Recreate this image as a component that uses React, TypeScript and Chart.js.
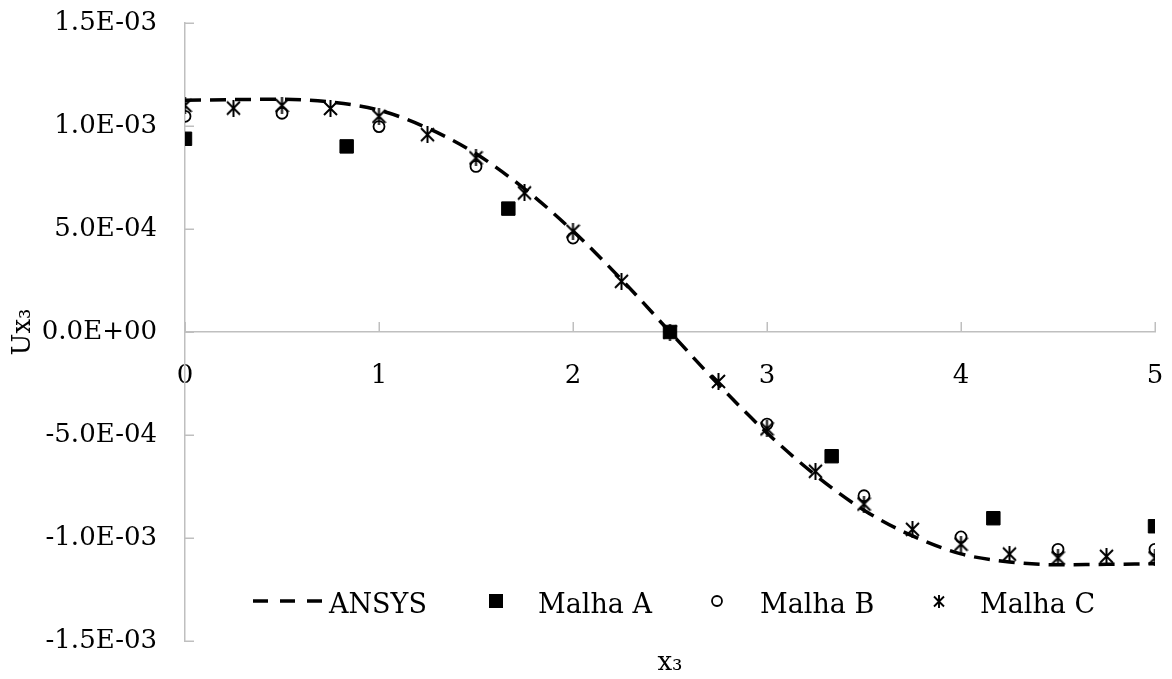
import React, { useEffect, useRef } from 'react';
import { Chart, registerables } from 'chart.js';

Chart.register(...registerables);

const FONT_FAMILY = '"DejaVu Serif", serif';

// ---- Data (displacements in metres) ----
const seriesNames = ['ANSYS', 'Malha A', 'Malha B', 'Malha C'];

const ansysX = [0, 0.25, 0.5, 0.75, 1, 1.25, 1.5, 1.75, 2, 2.25, 2.5, 2.75, 3, 3.25, 3.5, 3.75, 4, 4.25, 4.5, 4.75, 5];
const ansysY = [
  1.125e-3, 1.128e-3, 1.13e-3, 1.116e-3, 1.077e-3, 0.99e-3, 0.865e-3, 0.695e-3, 0.49e-3, 0.255e-3, 0,
  -0.255e-3, -0.49e-3, -0.695e-3, -0.865e-3, -0.99e-3, -1.077e-3, -1.116e-3, -1.13e-3, -1.128e-3, -1.125e-3,
];

const malhaAX = [0, 0.8333, 1.6667, 2.5, 3.3333, 4.1667, 5];
const malhaAY = [0.938e-3, 0.901e-3, 0.599e-3, 0, -0.603e-3, -0.904e-3, -0.943e-3];

const malhaBX = [0, 0.5, 1, 1.5, 2, 2.5, 3, 3.5, 4, 4.5, 5];
const malhaBY = [1.047e-3, 1.062e-3, 0.997e-3, 0.804e-3, 0.456e-3, 0, -0.447e-3, -0.795e-3, -0.995e-3, -1.055e-3, -1.055e-3];

const malhaCX = [0, 0.25, 0.5, 0.75, 1, 1.25, 1.5, 1.75, 2, 2.25, 2.5, 2.75, 3, 3.25, 3.5, 3.75, 4, 4.25, 4.5, 4.75, 5];
const malhaCY = [
  1.1e-3, 1.087e-3, 1.1e-3, 1.085e-3, 1.047e-3, 0.958e-3, 0.845e-3, 0.675e-3, 0.489e-3, 0.246e-3, 0,
  -0.24e-3, -0.47e-3, -0.676e-3, -0.835e-3, -0.958e-3, -1.03e-3, -1.078e-3, -1.097e-3, -1.089e-3, -1.097e-3,
];

const xTickLabels = ['0', '1', '2', '3', '4', '5'];
const yTickLabels = ['-1.5E-03', '-1.0E-03', '-5.0E-04', '0.0E+00', '5.0E-04', '1.0E-03', '1.5E-03'];
const xTitle = 'x\u2083';
const yTitle = 'Ux\u2083';

const AXIS_COLOR = '#bfbfbf';
const ANSYS_DASH = [16, 9];

function toPoints(xs: number[], ys: number[]) {
  return xs.map((x, i) => ({ x, y: ys[i] }));
}

function makeStarCanvas(w: number, h: number, lw: number) {
  const c = document.createElement('canvas');
  c.width = w;
  c.height = h;
  const g = c.getContext('2d')!;
  g.strokeStyle = '#000';
  g.lineWidth = lw;
  g.lineCap = 'butt';
  const m = 1;
  const top = (h - (w - 2 * m)) / 2;
  g.beginPath();
  g.moveTo(m, top);
  g.lineTo(w - m, h - top);
  g.moveTo(w - m, top);
  g.lineTo(m, h - top);
  g.moveTo(w / 2, 0);
  g.lineTo(w / 2, h);
  g.stroke();
  return c;
}

const tickMarksPlugin = {
  id: 'innerTickMarks',
  beforeDatasetsDraw(chart: any) {
    const { ctx, scales } = chart;
    const xs = scales.x;
    const ys = scales.y;
    const x0 = xs.getPixelForValue(0);
    const y0 = ys.getPixelForValue(0);
    ctx.save();
    ctx.strokeStyle = AXIS_COLOR;
    ctx.lineWidth = 1.5;
    ctx.beginPath();
    ys.ticks.forEach((t: any) => {
      const py = Math.round(ys.getPixelForValue(t.value)) + 0.25;
      ctx.moveTo(x0, py);
      ctx.lineTo(x0 + 9, py);
    });
    xs.ticks.forEach((t: any) => {
      const px = Math.round(xs.getPixelForValue(t.value)) + 0.25;
      ctx.moveTo(px, y0);
      ctx.lineTo(px, y0 - 10);
    });
    ctx.stroke();
    ctx.restore();
  },
};

function makeLegendPlugin(starLegend: HTMLCanvasElement) {
  return {
    id: 'inlineLegend',
    afterDraw(chart: any) {
      const { ctx, chartArea } = chart;
      const cy = chartArea.bottom - 40;
      const base = cy + 12;
      ctx.save();
      ctx.font = `27px ${FONT_FAMILY}`;
      ctx.fillStyle = '#000';
      ctx.textBaseline = 'alphabetic';
      ctx.textAlign = 'left';

      // ANSYS dashed sample
      ctx.strokeStyle = '#000';
      ctx.lineWidth = 3.5;
      ctx.setLineDash([15, 12]);
      ctx.beginPath();
      ctx.moveTo(253, cy);
      ctx.lineTo(323, cy);
      ctx.stroke();
      ctx.setLineDash([]);
      ctx.fillText(seriesNames[0], 329, base);

      // Malha A square
      ctx.fillRect(489, cy - 7, 14, 14);
      ctx.fillText(seriesNames[1], 538, base);

      // Malha B circle
      ctx.lineWidth = 1.8;
      ctx.beginPath();
      ctx.arc(717, cy, 5, 0, Math.PI * 2);
      ctx.stroke();
      ctx.fillText(seriesNames[2], 760, base);

      // Malha C star
      ctx.drawImage(starLegend, Math.round(939 - starLegend.width / 2), Math.round(cy - starLegend.height / 2));
      ctx.fillText(seriesNames[3], 980, base);
      ctx.restore();
    },
  };
}

export default function App() {
  const canvasRef = useRef<HTMLCanvasElement | null>(null);

  useEffect(() => {
    const canvas = canvasRef.current;
    if (!canvas) return;
    const star = makeStarCanvas(15, 17, 2);
    const starLegend = makeStarCanvas(12, 13, 1.9);

    const chart = new Chart(canvas, {
      type: 'scatter',
      data: {
        datasets: [
          {
            label: seriesNames[0],
            data: toPoints(ansysX, ansysY),
            showLine: true,
            borderColor: '#000',
            borderWidth: 3.5,
            borderDash: ANSYS_DASH,
            pointRadius: 0,
            cubicInterpolationMode: 'monotone',
            order: 3,
          },
          {
            label: seriesNames[1],
            data: toPoints(malhaAX, malhaAY),
            pointStyle: 'rect',
            pointRadius: 9.5,
            backgroundColor: '#000',
            borderColor: '#000',
            borderWidth: 1,
            showLine: false,
            order: 2,
          },
          {
            label: seriesNames[2],
            data: toPoints(malhaBX, malhaBY),
            pointStyle: 'circle',
            pointRadius: 5.5,
            backgroundColor: 'rgba(0,0,0,0)',
            borderColor: '#000',
            borderWidth: 1.8,
            showLine: false,
            order: 1,
          },
          {
            label: seriesNames[3],
            data: toPoints(malhaCX, malhaCY),
            pointStyle: star,
            pointRadius: 7,
            borderColor: '#000',
            backgroundColor: '#000',
            showLine: false,
            order: 0,
          },
        ],
      },
      options: {
        responsive: false,
        animation: false,
        devicePixelRatio: 1,
        layout: { padding: { left: 0, top: 23, right: 17, bottom: 38 } },
        plugins: {
          legend: { display: false },
          tooltip: { enabled: false },
          title: { display: false },
        },
        scales: {
          x: {
            type: 'linear',
            position: { y: 0 },
            min: 0,
            max: 5,
            grid: { display: false, drawTicks: false },
            border: { display: true, color: AXIS_COLOR, width: 1.5 },
            ticks: {
              stepSize: 1,
              padding: 29,
              color: '#000',
              font: { family: FONT_FAMILY, size: 26 },
              maxRotation: 0,
              autoSkip: false,
              callback: (_v: any, i: number) => xTickLabels[i],
            },
            title: {
              display: true,
              text: xTitle,
              color: '#000',
              font: { family: FONT_FAMILY, size: 26 },
              padding: { top: 4, bottom: 4 },
            },
            afterFit: (s: any) => {
              s.height = 351;
              s.paddingLeft = 0;
              s.paddingRight = 0;
            },
          },
          y: {
            type: 'linear',
            position: 'left',
            min: -1.5e-3,
            max: 1.5e-3,
            grid: { display: false, drawTicks: false },
            border: { display: true, color: AXIS_COLOR, width: 1.5 },
            ticks: {
              stepSize: 5e-4,
              padding: 28,
              color: '#000',
              font: { family: FONT_FAMILY, size: 26 },
              autoSkip: false,
              callback: (_v: any, i: number) => yTickLabels[i],
            },
            title: {
              display: true,
              text: yTitle,
              color: '#000',
              font: { family: FONT_FAMILY, size: 26 },
              padding: { top: 8, bottom: 4 },
            },
            afterFit: (s: any) => {
              s.width = 185;
              s.paddingTop = 0;
              s.paddingBottom = 0;
            },
          },
        },
      },
      plugins: [tickMarksPlugin, makeLegendPlugin(starLegend)],
    } as any);

    return () => {
      chart.destroy();
    };
  }, []);

  return (
    <div style={{ position: 'fixed', left: 0, top: 0, width: 1172, height: 679, background: '#fff' }}>
      <canvas ref={canvasRef} width={1172} height={679} style={{ width: 1172, height: 679, display: 'block' }} />
    </div>
  );
}
